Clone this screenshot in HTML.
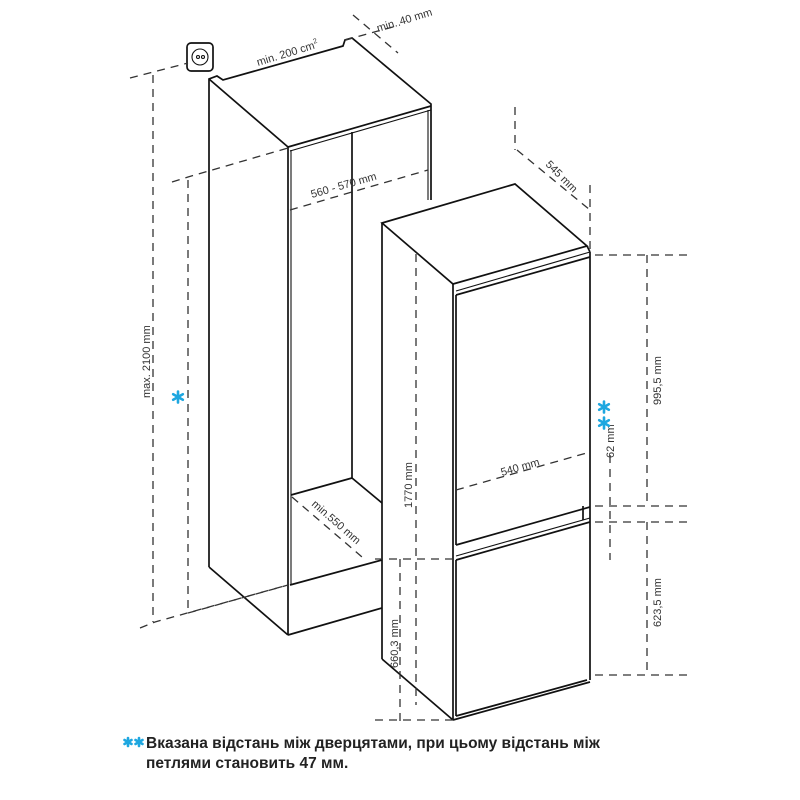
<!DOCTYPE html>
<html><head><meta charset="utf-8"><style>
html,body{margin:0;padding:0;background:#fff;width:800px;height:800px;overflow:hidden}
svg{display:block}
text{font-family:"Liberation Sans",sans-serif;font-size:11px;fill:#333}
.s{stroke:#111;stroke-width:1.7;fill:none}
.t{stroke:#111;stroke-width:1.1;fill:none}
.d{stroke:#333;stroke-width:1.3;fill:none;stroke-dasharray:8,6}
.b{font-family:"Liberation Sans","DejaVu Sans",sans-serif;font-weight:bold;font-size:15.5px;fill:#222}
.st{stroke:#1ea7e0;stroke-width:2.6;fill:none;stroke-linecap:round}
</style></head><body>
<svg width="800" height="800" viewBox="0 0 800 800">
<defs>
<g id="star"><line x1="0" y1="-5.5" x2="0" y2="5.5"/><line x1="-4.8" y1="-2.8" x2="4.8" y2="2.8"/><line x1="-4.8" y1="2.8" x2="4.8" y2="-2.8"/></g>
<g id="sstar"><line x1="0" y1="-4" x2="0" y2="4"/><line x1="-3.5" y1="-2" x2="3.5" y2="2"/><line x1="-3.5" y1="2" x2="3.5" y2="-2"/></g>
</defs>
<!-- socket -->
<rect x="187" y="43" width="26" height="28" rx="4" class="s" stroke-width="2"/>
<circle cx="200" cy="57" r="8" class="t"/>
<circle cx="198" cy="57" r="1.5" class="t"/><circle cx="203" cy="57" r="1.5" class="t"/>
<!-- cabinet -->
<polyline class="s" points="209,567 209,79 217,76 223,80 343,46 345,40 352,38 431,104 431,200"/>
<line class="s" x1="209" y1="567" x2="288" y2="635"/>
<line class="s" x1="209" y1="79" x2="288" y2="147"/>
<line class="s" x1="288" y1="147" x2="288" y2="635"/>
<line class="t" x1="291" y1="150" x2="291" y2="585"/>
<line class="s" x1="288" y1="147" x2="431" y2="106"/>
<line class="t" x1="290" y1="151" x2="431" y2="110"/>
<line class="t" x1="428" y1="110" x2="428" y2="200"/>
<line class="s" x1="352" y1="132" x2="352" y2="478"/>
<line class="s" x1="291" y1="495" x2="352" y2="478"/>
<line class="s" x1="352" y1="478" x2="382" y2="503"/>
<line class="s" x1="290" y1="585" x2="382" y2="560"/>
<line class="s" x1="288" y1="635" x2="382" y2="608"/>
<!-- cabinet dims -->
<polyline class="d" points="130,78 153,72 188,63"/>
<line class="d" x1="153" y1="75" x2="153" y2="622"/>
<polyline class="d" points="140,628 155,622 288,585"/>
<polyline class="d" points="172,182 188,177 288,148"/>
<line class="d" x1="188" y1="180" x2="188" y2="613"/>
<line class="d" x1="188" y1="613" x2="288" y2="585"/>
<line class="d" x1="290" y1="210" x2="428" y2="170"/>
<line class="d" x1="292" y1="497" x2="362" y2="557"/>
<line class="d" x1="345" y1="40" x2="400" y2="25"/>
<line class="d" x1="353" y1="15" x2="398" y2="53"/>
<line class="d" x1="515" y1="107" x2="515" y2="150"/>
<line class="d" x1="517" y1="150" x2="590" y2="210"/>
<line class="d" x1="590" y1="185" x2="590" y2="250"/>
<text transform="translate(258,66) rotate(-17)">min. 200 cm<tspan dy="-5" font-size="7">2</tspan></text>
<text transform="translate(378,32) rotate(-17)">min. 40 mm</text>
<text transform="translate(312,198) rotate(-16)">560 - 570 mm</text>
<text transform="translate(311,505) rotate(41)" font-size="10">min.550 mm</text>
<text transform="translate(545,165) rotate(45)" font-size="10">545 mm</text>
<text transform="translate(150,398) rotate(-90)">max. 2100 mm</text>
<use href="#star" class="st" x="178" y="397"/>
<!-- fridge -->
<polygon fill="#fff" stroke="none" points="382,223 515,184 590,250 590,682 453,722 382,661"/>
<polygon class="s" points="382,223 515,184 587,246 453,284"/>
<line class="s" x1="382" y1="223" x2="382" y2="659"/>
<line class="s" x1="382" y1="659" x2="453" y2="720"/>
<line class="s" x1="453" y1="284" x2="453" y2="720"/>
<line class="s" x1="587" y1="246" x2="590" y2="252"/>
<line class="s" x1="590" y1="252" x2="590" y2="680"/>
<line class="s" x1="453" y1="720" x2="590" y2="682"/>
<line class="t" x1="456" y1="291" x2="590" y2="252"/>
<polyline class="s" points="456,295 590,257"/>
<line class="s" x1="456" y1="295" x2="456" y2="545"/>
<line class="s" x1="456" y1="545" x2="590" y2="507"/>
<line class="s" x1="456" y1="560" x2="590" y2="522"/>
<line class="t" x1="456" y1="556" x2="590" y2="518"/>
<line class="s" x1="456" y1="560" x2="456" y2="716"/>
<line class="s" x1="456" y1="716" x2="587" y2="680"/>
<line class="s" x1="583" y1="506" x2="583" y2="520"/>
<!-- fridge dims -->
<line class="d" x1="416" y1="254" x2="416" y2="705"/>
<text transform="translate(412,508) rotate(-90)">1770 mm</text>
<line class="d" x1="375" y1="559" x2="455" y2="559"/>
<line class="d" x1="375" y1="720" x2="455" y2="720"/>
<line class="d" x1="400" y1="559" x2="400" y2="723"/>
<text transform="translate(398,668) rotate(-90)">660,3 mm</text>
<line class="d" x1="456" y1="490" x2="590" y2="452"/>
<text transform="translate(502,476) rotate(-16)">540 mm</text>
<line class="d" x1="595" y1="255" x2="692" y2="255"/>
<line class="d" x1="595" y1="506" x2="692" y2="506"/>
<line class="d" x1="595" y1="522" x2="692" y2="522"/>
<line class="d" x1="595" y1="675" x2="692" y2="675"/>
<line class="d" x1="647" y1="255" x2="647" y2="506"/>
<line class="d" x1="647" y1="522" x2="647" y2="675"/>
<text transform="translate(661,405) rotate(-90)">995,5 mm</text>
<text transform="translate(661,627) rotate(-90)">623,5 mm</text>
<line class="d" x1="610" y1="455" x2="610" y2="560"/>
<text transform="translate(614,458) rotate(-90)">62 mm</text>
<use href="#star" class="st" x="604" y="407"/>
<use href="#star" class="st" x="604" y="423"/>
<!-- note -->
<use href="#sstar" class="st" x="128" y="742"/>
<use href="#sstar" class="st" x="139" y="742"/>
<text x="146" y="748" class="b">Вказана відстань між дверцятами, при цьому відстань між</text>
<text x="146" y="768" class="b">петлями становить 47 мм.</text>
</svg>
</body></html>
